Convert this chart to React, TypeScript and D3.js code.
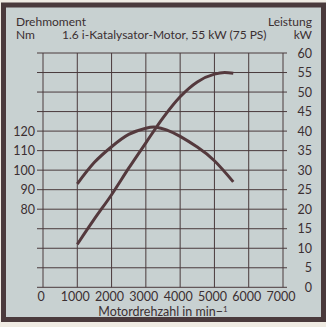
import React from "react";
import * as d3 from "d3";

const rpmTicks = [0, 1000, 2000, 3000, 4000, 5000, 6000, 7000];
const kwTicks = [0, 5, 10, 15, 20, 25, 30, 35, 40, 45, 50, 55, 60];
const nmTicks = [80, 90, 100, 110, 120];

const torqueRpm = [1000, 1500, 2000, 2500, 3000, 3300, 3600, 4000, 4500, 5000, 5550];
const torqueNm = [93, 104, 112, 118.3, 121.5, 122, 120.6, 117.3, 111.8, 104.8, 94];

const powerRpm = [1000, 1500, 2000, 2500, 3000, 3500, 4000, 4500, 5000, 5300, 5550];
const powerKw = [11, 17.5, 23.7, 30.5, 37, 43.4, 48.8, 52.6, 54.6, 55, 54.8];

const W = 326;
const H = 327;
const FONT = "Lato, 'Noto Sans', sans-serif";
const INK = "#3b2f31";
const LINE = "#4a3a3c";
const CURVE = "#54393d";
const FS = 12;

export default function App() {
  const x = d3.scaleLinear().domain([0, 7000]).range([43, 283]);
  const yKw = d3.scaleLinear().domain([0, 60]).range([287.3, 53]);
  const yNm = d3.scaleLinear().domain([40, 160]).range([287.3, 53]);

  const torqueLine = d3
    .line<number>()
    .x((_, i) => x(torqueRpm[i]))
    .y((d) => yNm(d))
    .curve(d3.curveNatural);
  const powerLine = d3
    .line<number>()
    .x((_, i) => x(powerRpm[i]))
    .y((d) => yKw(d))
    .curve(d3.curveMonotoneX);

  return (
    <div style={{ position: "fixed", left: 0, top: 0 }}>
      <svg width={W} height={H} style={{ display: "block" }} fontFamily={FONT}>
        <rect x={0} y={0} width={W} height={H} fill="#efebe3" />
        <rect x={3.5} y={5} width={320} height={314.5} fill="#c8d1d1" stroke={LINE} strokeWidth={5} />

        {/* grid */}
        {rpmTicks.map((t) => (
          <line key={"v" + t} x1={x(t)} x2={x(t)} y1={yKw(60)} y2={yKw(0)} stroke={LINE} strokeWidth={1} />
        ))}
        {kwTicks.map((t) => (
          <line key={"h" + t} x1={37} x2={287} y1={yKw(t)} y2={yKw(t)} stroke={LINE} strokeWidth={1} />
        ))}

        {/* curves */}
        <path d={torqueLine(torqueNm) || ""} fill="none" stroke={CURVE} strokeWidth={3} />
        <path d={powerLine(powerKw) || ""} fill="none" stroke={CURVE} strokeWidth={3} />

        {/* right axis labels */}
        {kwTicks.map((t) => (
          <text key={"r" + t} x={312} y={yKw(t)} dy="0.36em" textAnchor="end" fontSize={12.5} fill={INK}>
            {t}
          </text>
        ))}
        {/* left axis labels */}
        {nmTicks.map((t) => (
          <text key={"l" + t} x={35} y={yNm(t)} dy="0.36em" textAnchor="end" fontSize={12.5} fill={INK}>
            {t}
          </text>
        ))}
        {/* x labels */}
        {rpmTicks.map((t) => (
          <text key={"x" + t} x={x(t) - 2} y={301} textAnchor="middle" fontSize={12.5} fill={INK}>
            {t}
          </text>
        ))}
        <text x={163} y={316} textAnchor="middle" fontSize={12.5} fill={INK}>
          Motordrehzahl in min−<tspan dy={-4} fontSize={8}>1</tspan>
        </text>

        {/* header */}
        <text x={16} y={25.5} fontSize={FS} fill={INK}>Drehmoment</text>
        <text x={16} y={39} fontSize={FS} fill={INK}>Nm</text>
        <text x={62} y={39} fontSize={FS} fill={INK}>1.6 i-Katalysator-Motor, 55 kW (75 PS)</text>
        <text x={312} y={25.5} textAnchor="end" fontSize={FS} fill={INK}>Leistung</text>
        <text x={312} y={39} textAnchor="end" fontSize={FS} fill={INK}>kW</text>
      </svg>
    </div>
  );
}
